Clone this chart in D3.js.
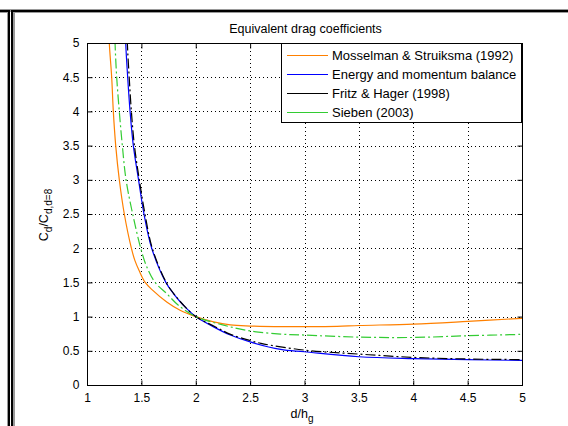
<!DOCTYPE html>
<html lang="en">
<head>
<meta charset="utf-8">
<title>Equivalent drag coefficients</title>
<script src="https://d3js.org/d3.v7.min.js"></script>
<style>
  body { margin: 0; background: #fff; }
  svg text { font-family: "Liberation Sans", Arial, sans-serif; }
</style>
</head>
<body>
<script>
// values
var xTicks = [1, 1.5, 2, 2.5, 3, 3.5, 4, 4.5, 5];
var yTicks = [0, 0.5, 1, 1.5, 2, 2.5, 3, 3.5, 4, 4.5, 5];

var mosselmanX = [1.200, 1.205, 1.227, 1.242, 1.264, 1.297, 1.343, 1.408, 1.44, 1.48, 1.535, 1.60, 1.733, 1.856, 2, 2.164, 2.318, 2.5, 2.8, 3, 3.3, 3.5, 4, 4.5, 5];
var mosselmanY = [5.3, 5, 4.5, 4, 3.5, 3, 2.5, 2, 1.822, 1.67, 1.5, 1.39, 1.214, 1.093, 1.0, 0.923, 0.878, 0.862, 0.853, 0.853, 0.858, 0.87, 0.89, 0.93, 0.975];

var energyX = [1.352, 1.356, 1.374, 1.396, 1.426, 1.474, 1.524, 1.595, 1.725, 1.795, 1.887, 2, 2.164, 2.318, 2.5, 2.78, 3, 3.5, 4, 4.5, 5];
var energyY = [5.3, 5, 4.5, 4, 3.5, 3, 2.5, 2, 1.5, 1.337, 1.166, 1.0, 0.85, 0.73, 0.63, 0.52, 0.486, 0.413, 0.385, 0.37, 0.36];

var fritzX = [1.367, 1.371, 1.388, 1.408, 1.436, 1.481, 1.533, 1.60, 1.728, 1.797, 1.888, 2, 2.17, 2.32, 2.5, 2.6, 3, 3.5, 4, 4.5, 5];
var fritzY = [5.3, 5, 4.5, 4, 3.5, 3, 2.5, 2, 1.5, 1.337, 1.166, 1.0, 0.86, 0.74, 0.65, 0.608, 0.51, 0.452, 0.404, 0.38, 0.372];

var siebenX = [1.254, 1.258, 1.273, 1.297, 1.325, 1.359, 1.42, 1.494, 1.55, 1.626, 1.733, 1.84, 2, 2.256, 2.5, 2.78, 3, 3.5, 4, 4.5, 5];
var siebenY = [5.3, 5, 4.5, 4, 3.5, 3, 2.5, 2, 1.725, 1.5, 1.337, 1.166, 1.0, 0.875, 0.79, 0.745, 0.73, 0.70, 0.695, 0.72, 0.74];

var seriesNames = ["Mosselman & Struiksma (1992)", "Energy and momentum balance", "Fritz & Hager (1998)", "Sieben (2003)"];
var seriesColors = ["#ff8000", "#0000ff", "#000000", "#33cc33"];

var w = 568, h = 426;
var pLeft = 87, pRight = 522, pTop = 43, pBottom = 385;

var svg = d3.select("body").append("svg").attr("width", w).attr("height", h);

// window frame lines
function frame(fx, fy, fw, fh, fill) {
    svg.append("rect").attr("x", fx).attr("y", fy).attr("width", fw).attr("height", fh).attr("fill", fill);
}
frame(0, 9, 11, 4, "#999");
frame(11, 9, w - 11, 4, "#999");
frame(7, 9, 4, h - 9, "#999");
frame(11, 9, 4, h - 9, "#999");
frame(0, 10, 10, 2, "#000");
frame(11, 10, w - 11, 2, "#000");
frame(8, 10, 2, h - 10, "#000");
frame(11, 10, 2, h - 10, "#000");
frame(10, 12, 1, h - 12, "#fff");

var x = d3.scaleLinear().domain([1, 5]).range([pLeft, pRight]);
var y = d3.scaleLinear().domain([0, 5]).range([pBottom, pTop]);

// dotted grid
svg.append("g").selectAll("line").data(xTicks.slice(1, -1)).enter().append("line")
    .attr("x1", function (d) { return Math.round(x(d)) + 0.5; })
    .attr("x2", function (d) { return Math.round(x(d)) + 0.5; })
    .attr("y1", pTop).attr("y2", pBottom)
    .attr("stroke", "#000").attr("stroke-width", 1).attr("stroke-dasharray", "1,3");
svg.append("g").selectAll("line").data(yTicks.slice(1, -1)).enter().append("line")
    .attr("y1", function (d) { return Math.round(y(d)) + 0.5; })
    .attr("y2", function (d) { return Math.round(y(d)) + 0.5; })
    .attr("x1", pLeft).attr("x2", pRight)
    .attr("stroke", "#000").attr("stroke-width", 1).attr("stroke-dasharray", "1,3");

// curves
svg.append("clipPath").attr("id", "clip").append("rect")
    .attr("x", pLeft).attr("y", pTop).attr("width", pRight - pLeft).attr("height", pBottom - pTop);

function pairs(xs, ys) {
    return xs.map(function (v, i) { return [v, ys[i]]; });
}
var curves = [
    { pts: pairs(mosselmanX, mosselmanY), color: seriesColors[0], dash: null },
    { pts: pairs(energyX, energyY), color: seriesColors[1], dash: null },
    { pts: pairs(fritzX, fritzY), color: seriesColors[2], dash: "10,3,2,3" },
    { pts: pairs(siebenX, siebenY), color: seriesColors[3], dash: "10,3,2,3" }
];
var lineCurve = d3.line()
    .x(function (d) { return x(d[0]); })
    .y(function (d) { return y(d[1]); })
    .curve(d3.curveCatmullRom.alpha(0.5));

svg.append("g").attr("clip-path", "url(#clip)").selectAll("path").data(curves).enter().append("path")
    .attr("d", function (d) { return lineCurve(d.pts); })
    .attr("fill", "none")
    .attr("stroke", function (d) { return d.color; })
    .attr("stroke-width", 1.2)
    .attr("stroke-dasharray", function (d) { return d.dash; });

// axes box
svg.append("rect").attr("x", pLeft + 0.5).attr("y", pTop + 0.5)
    .attr("width", pRight - pLeft).attr("height", pBottom - pTop)
    .attr("fill", "none").attr("stroke", "#000");

var xAxis = d3.axisBottom(x).tickValues(xTicks).tickSizeInner(-5).tickSizeOuter(0).tickPadding(8)
    .tickFormat(d3.format("~g"));
var yAxis = d3.axisLeft(y).tickValues(yTicks).tickSizeInner(-5).tickSizeOuter(0).tickPadding(8)
    .tickFormat(d3.format("~g"));
var xTop = d3.axisTop(x).tickValues(xTicks).tickSizeInner(-5).tickSizeOuter(0).tickFormat("");
var yRight = d3.axisRight(y).tickValues(yTicks).tickSizeInner(-5).tickSizeOuter(0).tickFormat("");

function styleAxis(g) {
    g.select(".domain").remove();
    g.selectAll("text").attr("font-size", 12).attr("fill", "#000")
        .attr("font-family", "'Liberation Sans', Arial, sans-serif");
}
svg.append("g").attr("transform", "translate(0," + (pBottom + 0.5) + ")").call(xAxis).call(styleAxis);
svg.append("g").attr("transform", "translate(" + (pLeft + 0.5) + ",0)").call(yAxis).call(styleAxis);
svg.append("g").attr("transform", "translate(0," + (pTop + 0.5) + ")").call(xTop).call(styleAxis);
svg.append("g").attr("transform", "translate(" + (pRight + 0.5) + ",0)").call(yRight).call(styleAxis);

// title and labels
svg.append("text").attr("x", (pLeft + pRight) / 2 + 1).attr("y", 33)
    .attr("text-anchor", "middle").attr("font-size", 12.5).text("Equivalent drag coefficients");

var xl = svg.append("text").attr("x", 302).attr("y", 418).attr("text-anchor", "middle").attr("font-size", 12.5);
xl.append("tspan").text("d/h");
xl.append("tspan").attr("dy", 4).attr("font-size", 10).text("g");

var yl = svg.append("text").attr("transform", "translate(48,215) rotate(-90)")
    .attr("text-anchor", "middle").attr("font-size", 12.5);
yl.append("tspan").text("C");
yl.append("tspan").attr("dy", 4).attr("font-size", 10).text("d");
yl.append("tspan").attr("dy", -4).text("/C");
yl.append("tspan").attr("dy", 4).attr("font-size", 10).text("d,d=8");

// legend
var lg = svg.append("g");
lg.append("rect").attr("x", 281.5).attr("y", 43.5).attr("width", 240).attr("height", 79)
    .attr("fill", "#fff").attr("stroke", "#000");
var items = lg.selectAll("g.item").data(seriesNames).enter().append("g")
    .attr("transform", function (d, i) { return "translate(0," + (55 + i * 19) + ")"; });
items.append("line").attr("x1", 287).attr("x2", 328).attr("y1", 0.5).attr("y2", 0.5)
    .attr("stroke", function (d, i) { return seriesColors[i]; }).attr("stroke-width", 1)
    .attr("shape-rendering", "crispEdges");
items.append("text").attr("x", 332).attr("y", 5).attr("font-size", 13).text(function (d) { return d; });
</script>
</body>
</html>
